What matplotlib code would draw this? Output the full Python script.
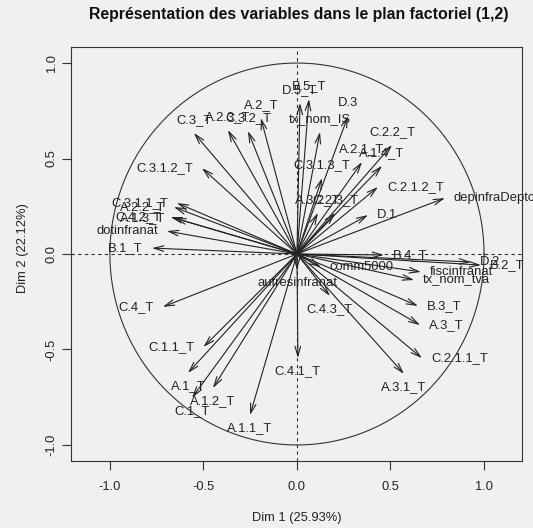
import numpy as np
import matplotlib
matplotlib.use("Agg")
import matplotlib.pyplot as plt

plt.rcParams['font.family'] = ['Liberation Sans', 'DejaVu Sans']

TITLE = "Représentation des variables dans le plan factoriel (1,2)"
XLABEL = "Dim 1 (25.93%)"
YLABEL = "Dim 2 (22.12%)"
BG = "#f0f0f0"

# variable names and their coordinates on dim 1 / dim 2
NAMES = ["B.5_T", "D.5_T", "A.2_T", "A.2.3_T", "C.3.2_T", "C.3_T", "D.3", "tx_nom_IS",
         "C.2.2_T", "A.2.1_T", "A.1.4_T", "C.3.1.3_T", "C.2.1.2_T", "depinfraDeptcom", "D.1",
         "A.3.2_T", "C.2.3_T", "B.4_T", "D.2", "B.2_T", "comm5000", "fiscinfranat",
         "tx_nom_tva", "autresinfranat", "C.4.3_T", "B.3_T", "A.3_T", "C.2.1.1_T", "A.3.1_T",
         "C.4.1_T", "C.4_T", "C.1.1_T", "A.1_T", "A.1.2_T", "C.1_T", "A.1.1_T",
         "C.3.1.2_T", "C.3.1.1_T", "A.2.2_T", "C.4.2_T", "A.1.3_T", "dotinfranat", "B.1_T"]
DIM1 = [0.064, 0.016, -0.193, -0.369, -0.262, -0.551, 0.273, 0.123,
        0.508, 0.348, 0.455, 0.134, 0.433, 0.791, 0.380,
        0.112, 0.205, 0.465, 0.930, 0.984, 0.128, 0.663,
        0.626, 0.000, 0.176, 0.647, 0.658, 0.668, 0.572,
        0.005, -0.717, -0.500, -0.583, -0.449, -0.561, -0.251,
        -0.508, -0.642, -0.658, -0.676, -0.655, -0.695, -0.775]
DIM2 = [0.812, 0.791, 0.712, 0.649, 0.644, 0.634, 0.723, 0.639,
        0.571, 0.482, 0.462, 0.398, 0.351, 0.293, 0.204,
        0.215, 0.215, -0.005, -0.042, -0.058, -0.068, -0.094,
        -0.136, -0.084, -0.220, -0.272, -0.372, -0.545, -0.628,
        -0.545, -0.277, -0.487, -0.623, -0.702, -0.753, -0.843,
        0.450, 0.267, 0.246, 0.194, 0.188, 0.120, 0.031]

XTICKS = [-1.0, -0.5, 0.0, 0.5, 1.0]
YTICKS = [-1.0, -0.5, 0.0, 0.5, 1.0]

fig = plt.figure(figsize=(5.33, 5.28), dpi=100, facecolor=BG)
ax = fig.add_axes([71 / 533, 1 - 461 / 528, 451 / 533, 414 / 528])
ax.set_facecolor(BG)
ax.set_xlim(-1.208, 1.203)
ax.set_ylim(-1.084, 1.084)

# unit circle and axes through origin
t = np.linspace(0, 2 * np.pi, 400)
ax.plot(np.cos(t), np.sin(t), color="#333333", lw=0.8)
ax.axhline(0, color="#333333", lw=0.8, ls=(0, (3, 3)))
ax.axvline(0, color="#333333", lw=0.8, ls=(0, (3, 3)))

for name, x, y in zip(NAMES, DIM1, DIM2):
    ax.annotate("", xy=(x, y), xytext=(0, 0),
                arrowprops=dict(arrowstyle="->,head_length=0.7,head_width=0.2",
                                color="#222222", lw=0.8, shrinkA=0, shrinkB=0))
    # same rule as FactoMineR: label on the side where the arrow points
    if abs(x) > abs(y):
        off, ha = ((6.5, 0), "left") if x >= 0 else ((-6.5, 0), "right")
    else:
        off, ha = ((0, 9.5), "center") if y >= 0 else ((0, -9.5), "center")
    ax.annotate(name, xy=(x, y), xytext=off, textcoords="offset points",
                ha=ha, va="center", fontsize=9.4, color="#222222",
                annotation_clip=False, clip_on=False)

ax.set_xticks(XTICKS)
ax.set_yticks(YTICKS)
ax.set_xticklabels([f"{v:.1f}" for v in XTICKS])
ax.set_yticklabels([f"{v:.1f}" for v in YTICKS], rotation=90, va="center")
ax.tick_params(length=6.5, width=0.8, color="#333333", labelsize=9.3,
               labelcolor="#222222")
ax.tick_params(axis="x", pad=8)
ax.tick_params(axis="y", pad=3)
for s in ax.spines.values():
    s.set_color("#333333")
    s.set_linewidth(0.8)

fig.text(297 / 533, 1 - 518 / 528, XLABEL, ha="center", va="center", fontsize=9.3,
         color="#222222")
fig.text(23 / 533, 1 - 248 / 528, YLABEL, ha="center", va="center", rotation=90,
         fontsize=9.3, color="#222222")
fig.text(299 / 533, 1 - 15 / 528, TITLE, ha="center", va="center", fontsize=11.4,
         fontweight="bold", color="#111111")

fig.savefig("out.png", dpi=100, facecolor=BG)
